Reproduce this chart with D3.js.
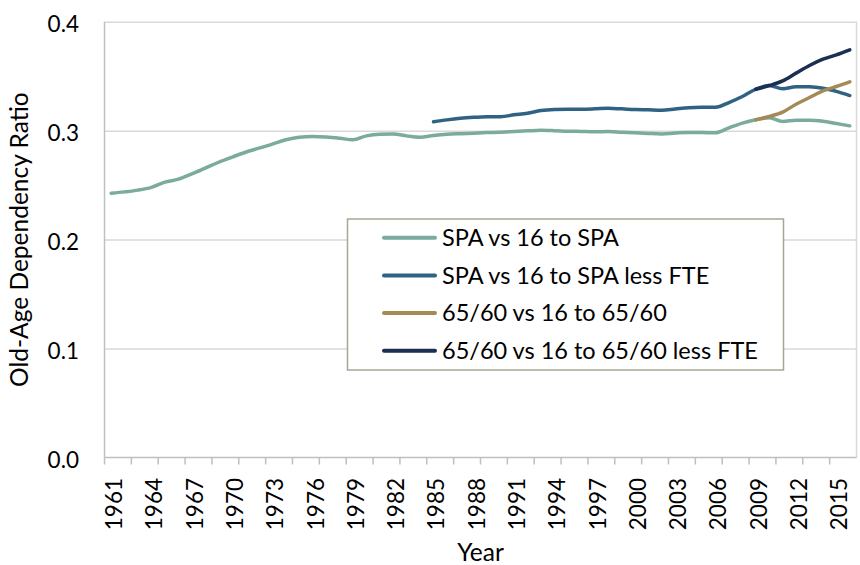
<!DOCTYPE html>
<html>
<head>
<meta charset="utf-8">
<script src="https://cdn.jsdelivr.net/npm/d3@7"></script>
<style>
  body { margin: 0; background: #fff; }
  text { font-family: Lato, "Open Sans", sans-serif; fill: #000; }
</style>
</head>
<body>
<svg id="chart" width="860" height="565"></svg>
<script>
var years = [1961, 1962, 1963, 1964, 1965, 1966, 1967, 1968, 1969, 1970,
    1971, 1972, 1973, 1974, 1975, 1976, 1977, 1978, 1979, 1980,
    1981, 1982, 1983, 1984, 1985, 1986, 1987, 1988, 1989, 1990,
    1991, 1992, 1993, 1994, 1995, 1996, 1997, 1998, 1999, 2000,
    2001, 2002, 2003, 2004, 2005, 2006, 2007, 2008, 2009, 2010,
    2011, 2012, 2013, 2014, 2015, 2016];

var yearLabels = [1961, 1964, 1967, 1970, 1973, 1976, 1979, 1982, 1985, 1988,
    1991, 1994, 1997, 2000, 2003, 2006, 2009, 2012, 2015];

var yTicks = [0, 0.1, 0.2, 0.3, 0.4];

// SPA vs 16 to SPA, 1961-2016
var spa = [0.2426, 0.2438, 0.2454, 0.2480, 0.2527, 0.2555, 0.2603, 0.2656, 0.2710, 0.2757,
    0.2802, 0.2839, 0.2876, 0.2916, 0.2940, 0.2946, 0.2942, 0.2931, 0.2916, 0.2952,
    0.2968, 0.2970, 0.2952, 0.2940, 0.2955, 0.2966, 0.2972, 0.2977, 0.2982, 0.2986,
    0.2992, 0.2998, 0.3003, 0.3000, 0.2995, 0.2993, 0.2990, 0.2992, 0.2986, 0.2980,
    0.2974, 0.2970, 0.2978, 0.2984, 0.2983, 0.2980, 0.3026, 0.3069, 0.3100, 0.3118,
    0.3084, 0.3096, 0.3096, 0.3086, 0.3065, 0.3044];

// SPA vs 16 to SPA less FTE, 1985-2016
var spaLessFte = [0.3081, 0.3099, 0.3113, 0.3122, 0.3128, 0.3128, 0.3145, 0.3160, 0.3185, 0.3195,
    0.3197, 0.3197, 0.3200, 0.3205, 0.3200, 0.3194, 0.3191, 0.3188, 0.3199, 0.3210,
    0.3214, 0.3215, 0.3258, 0.3313, 0.3380, 0.3415, 0.3384, 0.3403, 0.3402, 0.3389,
    0.3360, 0.3322];

// 65/60 vs 16 to 65/60, 2009-2016
var fixedAge = [0.3100, 0.3130, 0.3170, 0.3243, 0.3304, 0.3365, 0.3405, 0.3448];

// 65/60 vs 16 to 65/60 less FTE, 2009-2016
var fixedAgeLessFte = [0.3380, 0.3414, 0.3457, 0.3528, 0.3598, 0.3656, 0.3696, 0.3742];

var seriesNames = ["SPA vs 16 to SPA", "SPA vs 16 to SPA less FTE",
    "65/60 vs 16 to 65/60", "65/60 vs 16 to 65/60 less FTE"];
var seriesStart = [1961, 1985, 2009, 2009];
var seriesColors = ["#7aab9e", "#2f6283", "#a58a57", "#1c2e52"];

(function chart() {
    var svg = d3.select("#chart"),
        left = 104.5,
        right = 856.5,
        top = 21.7,
        bottom = 457.5;

    var x = d3.scaleBand().domain(years).range([left, right]),
        y = d3.scaleLinear().domain([0, 0.4]).range([bottom, top]);

    var series = [spa, spaLessFte, fixedAge, fixedAgeLessFte].map(function (vals, i) {
        return {
            name: seriesNames[i],
            color: seriesColors[i],
            points: vals.map(function (v, j) {
                return { year: seriesStart[i] + j, value: v };
            })
        };
    });

    // gridlines
    svg.append("g")
        .attr("transform", "translate(" + left + ",0)")
        .call(d3.axisLeft(y).tickValues(yTicks.slice(1)).tickSize(-(right - left)).tickFormat(""))
        .call(function (g) { g.select(".domain").remove(); })
        .selectAll("line")
        .attr("stroke", "#d9d9d9")
        .attr("stroke-width", 1.5);

    // right border
    svg.append("line")
        .attr("x1", right).attr("x2", right)
        .attr("y1", y(0.4)).attr("y2", bottom)
        .attr("stroke", "#d9d9d9")
        .attr("stroke-width", 1.5);

    // y labels
    svg.selectAll(".ylab")
        .data(yTicks)
        .enter().append("text")
        .attr("class", "ylab")
        .attr("x", 79)
        .attr("y", function (d) { return y(d) + 10.5; })
        .attr("text-anchor", "end")
        .style("font-size", "22.5px")
        .text(d3.format(".1f"));

    // left axis line
    svg.append("line")
        .attr("x1", left).attr("x2", left)
        .attr("y1", top).attr("y2", bottom)
        .attr("stroke", "#bfbfbf")
        .attr("stroke-width", 1.5);

    // bottom axis with tick marks every two years
    svg.append("line")
        .attr("x1", left).attr("x2", right)
        .attr("y1", bottom).attr("y2", bottom)
        .attr("stroke", "#bfbfbf")
        .attr("stroke-width", 1.5);

    svg.selectAll(".xtick")
        .data(years.filter(function (d, i) { return i % 2 === 0; }))
        .enter().append("line")
        .attr("class", "xtick")
        .attr("x1", function (d) { return x(d); })
        .attr("x2", function (d) { return x(d); })
        .attr("y1", bottom)
        .attr("y2", bottom + 7)
        .attr("stroke", "#bfbfbf")
        .attr("stroke-width", 1.5);

    svg.selectAll(".xlab")
        .data(yearLabels)
        .enter().append("text")
        .attr("class", "xlab")
        .attr("transform", function (d) {
            return "translate(" + (x(d) + x.bandwidth() / 2 + 3) + "," + 478 + ") rotate(-90)";
        })
        .attr("dy", "0.35em")
        .attr("text-anchor", "end")
        .style("font-size", "22.5px")
        .text(function (d) { return d; });

    // axis titles
    svg.append("text")
        .attr("x", (left + right) / 2)
        .attr("y", 561)
        .attr("text-anchor", "middle")
        .style("font-size", "24.5px")
        .text("Year");

    svg.append("text")
        .attr("transform", "translate(28," + (top + bottom) / 2 + ") rotate(-90)")
        .attr("text-anchor", "middle")
        .style("font-size", "24.5px")
        .text("Old-Age Dependency Ratio");

    // lines
    var line = d3.line()
        .curve(d3.curveMonotoneX)
        .x(function (d) { return x(d.year) + x.bandwidth() / 2; })
        .y(function (d) { return y(d.value); });

    svg.selectAll(".series")
        .data(series)
        .enter().append("path")
        .attr("class", "series")
        .attr("fill", "none")
        .attr("stroke", function (d) { return d.color; })
        .attr("stroke-width", 3.5)
        .attr("stroke-linecap", "round")
        .attr("stroke-linejoin", "round")
        .attr("d", function (d) { return line(d.points); });

    // legend
    var legend = svg.append("g");

    legend.append("rect")
        .attr("x", 347.5)
        .attr("y", 219)
        .attr("width", 436)
        .attr("height", 151)
        .attr("fill", "#fff")
        .attr("stroke", "#a6a695")
        .attr("stroke-width", 1.5);

    var item = legend.selectAll(".item")
        .data(series)
        .enter().append("g")
        .attr("class", "item")
        .attr("transform", function (d, i) { return "translate(0," + (237.7 + i * 37.7) + ")"; });

    item.append("line")
        .attr("x1", 384).attr("x2", 435)
        .attr("stroke", function (d) { return d.color; })
        .attr("stroke-width", 4)
        .attr("stroke-linecap", "round");

    item.append("text")
        .attr("x", 442)
        .attr("dy", "0.35em")
        .style("font-size", "23.5px")
        .text(function (d) { return d.name; });
}());
</script>
</body>
</html>
